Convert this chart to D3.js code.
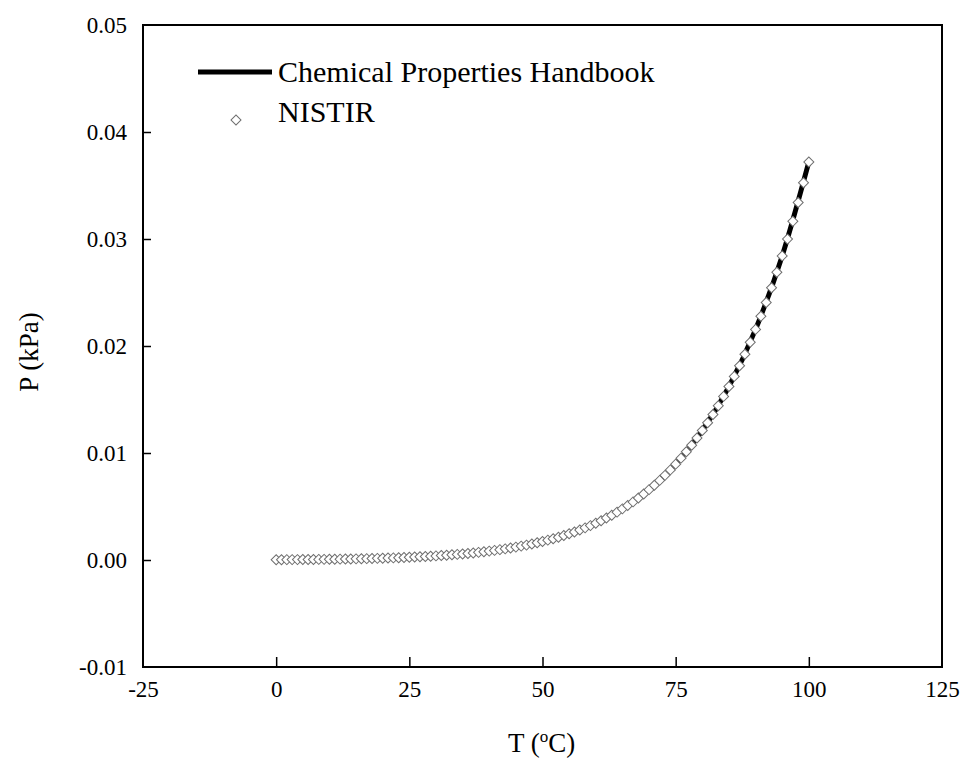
<!DOCTYPE html>
<html>
<head>
<meta charset="utf-8">
<script src="https://cdn.jsdelivr.net/npm/d3@7"></script>
<style>
  html, body { margin: 0; padding: 0; background: #fff; }
  svg { display: block; }
  svg text { font-family: "Liberation Serif", "Times New Roman", Times, "Nimbus Roman", "DejaVu Serif", serif !important; fill: #000; }
</style>
</head>
<body>
<svg id="chart" width="961" height="758"></svg>
<script>
// ---- Data ----
const nistirT = d3.range(0, 101); // 0..100 °C, 1 °C steps
const nistirP = [
  0.0000262, 0.0000289, 0.0000318, 0.0000351, 0.0000387, 0.0000426, 0.0000468, 0.0000514, 0.0000565, 0.0000620,
  0.0000681, 0.0000746, 0.0000816, 0.0000894, 0.0000979, 0.000107, 0.000117, 0.000128, 0.000139, 0.000152,
  0.000166, 0.000181, 0.000197, 0.000214, 0.000233, 0.000254, 0.000276, 0.000299, 0.000325, 0.000352,
  0.000382, 0.000413, 0.000447, 0.000484, 0.000524, 0.000567, 0.000612, 0.000661, 0.000714, 0.000771,
  0.000832, 0.000897, 0.000966, 0.001041, 0.001121, 0.001207, 0.001297, 0.001394, 0.001498, 0.001610,
  0.001730, 0.001855, 0.001989, 0.002133, 0.002287, 0.002452, 0.002624, 0.002808, 0.003004, 0.003215,
  0.003440, 0.003674, 0.003923, 0.004189, 0.004474, 0.004778, 0.005095, 0.005430, 0.005788, 0.006169,
  0.006575, 0.006990, 0.007440, 0.007910, 0.008420, 0.008960, 0.009520, 0.010110, 0.010730, 0.011400,
  0.012100, 0.012830, 0.013600, 0.014420, 0.015290, 0.016210, 0.017160, 0.018160, 0.019230, 0.020350,
  0.021550, 0.022780, 0.024070, 0.025440, 0.026890, 0.028420, 0.029990, 0.031650, 0.033410, 0.035250,
  0.037200
];
const handbookT = [0, 5, 10, 15, 20, 25, 30, 35, 40, 45, 50, 55, 60, 65, 70, 75, 80, 85, 90, 95, 100];
const handbookP = [0.0000262, 0.0000426, 0.0000681, 0.000107, 0.000166, 0.000254, 0.000382, 0.000567, 0.000832,
  0.001207, 0.001730, 0.002452, 0.003440, 0.004778, 0.006575, 0.008960, 0.012100, 0.016210, 0.021550,
  0.028420, 0.037200];
const xTicks = [-25, 0, 25, 50, 75, 100, 125];
const yTicks = [-0.01, 0.00, 0.01, 0.02, 0.03, 0.04, 0.05];
const seriesNames = ["Chemical Properties Handbook", "NISTIR"];

// ---- Layout ----
const FONT = "'Liberation Serif', 'Times New Roman', Times, 'Nimbus Roman', 'DejaVu Serif', serif";
const svg = d3.select("#chart");
const plot = { left: 143, top: 25, right: 942, bottom: 667 };

const x = d3.scaleLinear().domain([-25, 125]).range([plot.left, plot.right]);
const y = d3.scaleLinear().domain([-0.01, 0.05]).range([plot.bottom, plot.top]);

// Handbook line (drawn first, under the markers)
const line = d3.line()
  .x((d, i) => x(handbookT[i]))
  .y((d, i) => y(handbookP[i]))
  .curve(d3.curveMonotoneX);
svg.append("path")
  .datum(handbookP)
  .attr("d", line)
  .attr("fill", "none")
  .attr("stroke", "#000")
  .attr("stroke-width", 5);

// NISTIR diamonds
const diamond = d3.symbol().type(d3.symbolSquare).size(50);
svg.append("g").selectAll("path")
  .data(nistirP)
  .join("path")
  .attr("d", diamond)
  .attr("transform", (d, i) => `translate(${x(nistirT[i])},${y(d)}) rotate(45)`)
  .attr("fill", "#fff")
  .attr("stroke", "#6e6e6e")
  .attr("stroke-width", 1);

// Axes
const hyphen = f => d => f(d).replace("\u2212", "-");
const xAxisB = d3.axisBottom(x).tickValues(xTicks).tickSize(-10).tickPadding(14).tickFormat(hyphen(d3.format("d")));
const yAxisL = d3.axisLeft(y).tickValues(yTicks).tickSize(-8).tickPadding(16).tickFormat(hyphen(d3.format(".2f")));

const gx = svg.append("g").attr("transform", `translate(0,${plot.bottom})`).call(xAxisB);
const gy = svg.append("g").attr("transform", `translate(${plot.left},0)`).call(yAxisL);
[gx, gy].forEach(g => {
  g.attr("font-family", FONT);
  g.select(".domain").remove();
  g.selectAll(".tick line").attr("stroke", "#000").attr("stroke-width", 1.5);
  g.selectAll(".tick text").attr("font-family", FONT)
    .style("font-size", "23px").attr("fill", "#000");
});
// Hide end ticks that coincide with the frame
gx.selectAll(".tick").filter(d => d === -25 || d === 125).select("line").remove();
gy.selectAll(".tick").filter(d => d === -0.01 || d === 0.05).select("line").remove();

// Frame
svg.append("rect")
  .attr("x", plot.left).attr("y", plot.top)
  .attr("width", plot.right - plot.left).attr("height", plot.bottom - plot.top)
  .attr("fill", "none").attr("stroke", "#000").attr("stroke-width", 2);

// Axis titles
const xt = svg.append("text")
  .attr("font-family", FONT)
  .attr("x", (plot.left + plot.right) / 2 - 1).attr("y", 752)
  .attr("text-anchor", "middle").style("font-size", "27px");
xt.append("tspan").text("T (");
xt.append("tspan").text("o").attr("dy", -10).style("font-size", "17px");
xt.append("tspan").text("C)").attr("dy", 10);

svg.append("text")
  .attr("font-family", FONT)
  .attr("transform", `translate(38,${(plot.top + plot.bottom) / 2 + 6}) rotate(-90)`)
  .attr("text-anchor", "middle").style("font-size", "27px")
  .text("P (kPa)");

// Legend
const lg = svg.append("g").attr("font-family", FONT);
lg.append("line")
  .attr("x1", 198).attr("x2", 272).attr("y1", 72).attr("y2", 72)
  .attr("stroke", "#000").attr("stroke-width", 5);
lg.append("path")
  .attr("d", diamond)
  .attr("transform", "translate(236,120) rotate(45)")
  .attr("fill", "#fff").attr("stroke", "#6e6e6e").attr("stroke-width", 1);
lg.append("text").attr("x", 278).attr("y", 82).style("font-size", "30px").text(seriesNames[0]);
lg.append("text").attr("x", 278).attr("y", 122).style("font-size", "30px").text(seriesNames[1]);
</script>
</body>
</html>
